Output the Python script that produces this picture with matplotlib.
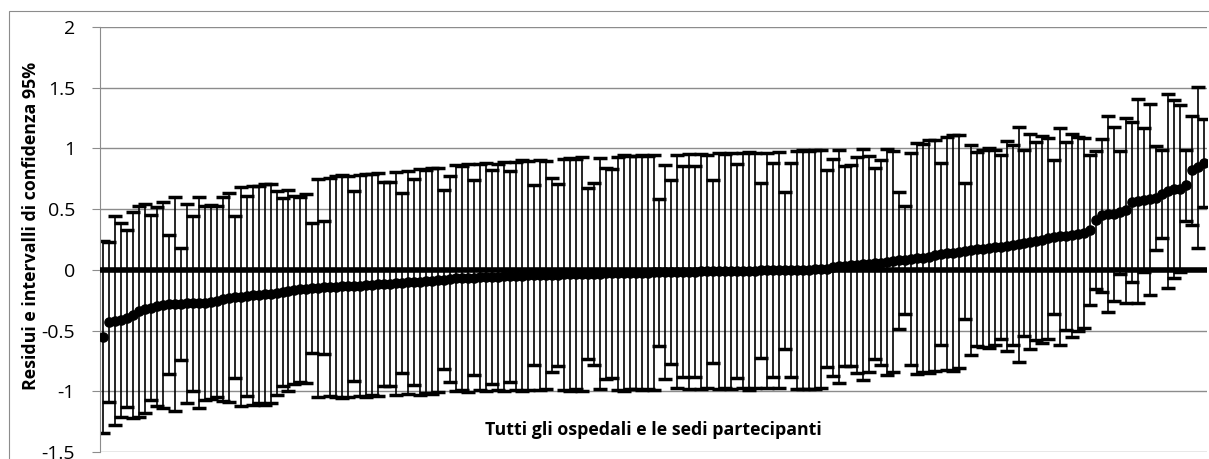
import matplotlib.pyplot as plt
from matplotlib.patches import Rectangle

# residui ordinati (uno per ospedale/sede) e semiampiezza dell'IC 95%
residui = [
    -0.55, -0.43, -0.42, -0.41, -0.40, -0.37, -0.34, -0.32, -0.31, -0.30,
    -0.29, -0.285, -0.28, -0.28, -0.275, -0.275, -0.27, -0.27, -0.265, -0.26,
    -0.24, -0.23, -0.225, -0.22, -0.215, -0.21, -0.205, -0.20, -0.195, -0.19,
    -0.18, -0.17, -0.165, -0.16, -0.155, -0.15, -0.148, -0.145, -0.142, -0.14,
    -0.137, -0.135, -0.132, -0.13, -0.127, -0.124, -0.12, -0.117, -0.114, -0.11,
    -0.107, -0.104, -0.10, -0.097, -0.094, -0.09, -0.085, -0.08, -0.075, -0.07,
    -0.068, -0.066, -0.064, -0.062, -0.06, -0.058, -0.056, -0.054, -0.052, -0.05,
    -0.048, -0.046, -0.045, -0.043, -0.042, -0.04, -0.039, -0.037, -0.036, -0.035,
    -0.034, -0.033, -0.031, -0.03, -0.029, -0.028, -0.027, -0.026, -0.025, -0.024,
    -0.023, -0.022, -0.021, -0.02, -0.019, -0.018, -0.017, -0.016, -0.015, -0.014,
    -0.013, -0.012, -0.011, -0.010, -0.009, -0.008, -0.008, -0.007, -0.006, -0.006,
    -0.005, -0.005, -0.004, -0.003, -0.003, -0.002, -0.001, 0.0, 0.001, 0.003,
    0.006, 0.01, 0.02, 0.028, 0.032, 0.036, 0.04, 0.045, 0.05, 0.055,
    0.06, 0.066, 0.072, 0.078, 0.084, 0.09, 0.095, 0.10, 0.11, 0.12,
    0.13, 0.135, 0.14, 0.15, 0.155, 0.16, 0.17, 0.175, 0.18, 0.185,
    0.19, 0.20, 0.205, 0.21, 0.22, 0.23, 0.24, 0.25, 0.26, 0.27,
    0.275, 0.28, 0.285, 0.295, 0.305, 0.33, 0.41, 0.45, 0.46, 0.46,
    0.475, 0.49, 0.56, 0.57, 0.575, 0.58, 0.59, 0.625, 0.65, 0.665,
    0.67, 0.695, 0.82, 0.845, 0.88,
]

semi_ic = [
    0.79, 0.66, 0.86, 0.80, 0.73, 0.85, 0.87, 0.86, 0.76, 0.82,
    0.85, 0.575, 0.88, 0.46, 0.82, 0.72, 0.87, 0.80, 0.80, 0.79,
    0.84, 0.86, 0.665, 0.90, 0.825, 0.90, 0.895, 0.91, 0.905, 0.84,
    0.775, 0.83, 0.775, 0.76, 0.78, 0.535, 0.90, 0.55, 0.90, 0.91,
    0.92, 0.91, 0.78, 0.91, 0.92, 0.91, 0.92, 0.84, 0.84, 0.92,
    0.74, 0.92, 0.845, 0.93, 0.92, 0.93, 0.92, 0.74, 0.85, 0.93,
    0.92, 0.94, 0.80, 0.93, 0.94, 0.88, 0.93, 0.94, 0.87, 0.94,
    0.95, 0.94, 0.74, 0.95, 0.94, 0.80, 0.75, 0.95, 0.96, 0.95,
    0.96, 0.705, 0.75, 0.95, 0.87, 0.86, 0.96, 0.97, 0.96, 0.96,
    0.97, 0.96, 0.97, 0.605, 0.88, 0.755, 0.96, 0.87, 0.97, 0.87,
    0.97, 0.96, 0.755, 0.97, 0.96, 0.97, 0.88, 0.97, 0.98, 0.97,
    0.72, 0.97, 0.88, 0.97, 0.645, 0.88, 0.98, 0.985, 0.98, 0.985,
    0.98, 0.81, 0.89, 0.96, 0.825, 0.825, 0.89, 0.95, 0.89, 0.785,
    0.845, 0.93, 0.91, 0.565, 0.445, 0.87, 0.95, 0.94, 0.96, 0.95,
    0.75, 0.96, 0.97, 0.96, 0.56, 0.865, 0.80, 0.81, 0.82, 0.80,
    0.76, 0.865, 0.82, 0.965, 0.765, 0.885, 0.815, 0.85, 0.83, 0.635,
    0.895, 0.775, 0.835, 0.80, 0.785, 0.62, 0.57, 0.63, 0.81, 0.72,
    0.505, 0.76, 0.66, 0.84, 0.59, 0.79, 0.43, 0.365, 0.80, 0.735,
    0.69, 0.295, 0.45, 0.665, 0.36,
]

y_ticks = [-1.5, -1, -0.5, 0, 0.5, 1, 1.5, 2]
y_labels = ['-1.5', '-1', '-0.5', '0', '0.5', '1', '1.5', '2']

plt.rcParams['font.family'] = ['Open Sans', 'DejaVu Sans']

W, H = 1209, 459
fig = plt.figure(figsize=(W / 100, H / 100), dpi=100)
ax = fig.add_axes([100 / W, 7 / H, 1107 / W, 425 / H])

grey = '#8c8c8c'
x = list(range(len(residui)))

ax.errorbar(x, residui, yerr=semi_ic, fmt='none', ecolor='black',
            elinewidth=1.2, capsize=4.8, capthick=2.5, zorder=2)
ax.plot([-0.5, len(residui) - 0.5], [0, 0], color='black', lw=4.0,
        solid_capstyle='butt', zorder=3)
ax.plot(x, residui, 'o', color='black', ms=6.6, zorder=4)

ax.set_xlim(-0.5, len(residui) - 0.5)
ax.set_ylim(-1.5, 2)
ax.set_yticks(y_ticks)
ax.set_yticklabels(y_labels, fontsize=14)
ax.set_xticks([])
ax.grid(axis='y', color=grey, lw=1.0, zorder=0)
ax.set_axisbelow(True)
ax.tick_params(axis='y', length=6, width=0.8, color=grey, pad=12, labelcolor='black')
for s in ['top', 'right', 'bottom']:
    ax.spines[s].set_visible(False)
ax.spines['left'].set_color(grey)
ax.spines['left'].set_linewidth(0.8)

fig.text(31 / W, 1 - 226 / H, 'Residui e intervalli di confidenza 95%',
         rotation=90, ha='center', va='center', fontsize=12.8, weight='bold')
fig.text(653 / W, 1 - 430 / H, 'Tutti gli ospedali e le sedi partecipanti',
         ha='center', va='center', fontsize=12.8, weight='bold')

fig.patches.append(Rectangle((9 / W, -0.2), 1.2, 1.2 - 11 / H,
                             transform=fig.transFigure, fill=False,
                             edgecolor=grey, lw=0.8))

fig.savefig('out.png', dpi=100)
